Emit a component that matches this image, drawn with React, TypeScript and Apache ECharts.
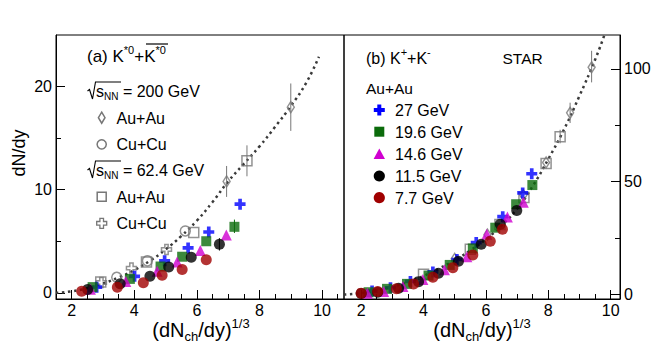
import React, { useEffect, useRef } from "react";
import * as echarts from "echarts";

// ---------- Panel (a): K*0 + anti-K*0 ----------
const fitA: number[][] = [
  [1.5, 0], [2, 0.15], [2.5, 0.45], [3, 0.9], [3.5, 1.5], [4, 2.2], [4.5, 3.1],
  [5, 4.2], [5.5, 5.5], [6, 7.0], [6.5, 8.8], [7, 10.8], [7.5, 12.5], [8, 14.2],
  [8.5, 16.1], [9, 18.1], [9.5, 20.4], [9.9, 22.9],
];
const aAuAu200: number[][] = [[6.95, 10.8], [9.0, 18.0]];
const aCuCu200: number[][] = [[3.44, 1.5], [4.42, 3.1], [5.63, 6.0]];
const aAuAu62: number[][] = [[2.93, 1.05], [4.39, 3.0], [5.9, 5.85], [7.6, 12.8]];
const aCuCu62: number[][] = [[2.95, 1.0], [3.91, 2.4], [5.03, 4.2]];
const a27: number[][] = [[2.8, 0.55], [4.01, 1.6], [4.97, 3.1], [5.72, 4.35], [6.38, 5.9], [7.38, 8.6]];
const a196: number[][] = [[2.67, 0.55], [3.86, 1.35], [4.84, 2.55], [5.53, 3.5], [6.3, 5.0], [7.2, 6.4]];
const a146: number[][] = [[2.6, 0.35], [3.73, 1.1], [4.73, 2.1], [5.37, 3.0], [6.11, 4.1], [6.94, 5.6]];
const a115: number[][] = [[2.51, 0.32], [3.55, 0.87], [4.5, 1.6], [5.1, 2.5], [5.82, 3.45], [6.72, 4.7]];
const a77: number[][] = [[2.32, 0.15], [3.46, 0.55], [4.29, 0.97], [4.89, 1.7], [5.53, 2.25], [6.3, 3.2]];
const errAGray: number[][] = [[6.95, 9.3, 12.3], [9.0, 15.7, 20.3], [7.6, 11.3, 14.3]];
const errAGreen: number[][] = [[7.2, 5.8, 7.1]];
const errABlack: number[][] = [[6.72, 4.1, 5.3]];

// ---------- Panel (b): K+ + K- ----------
const fitB: number[][] = [
  [1.45, 0], [2, 0.6], [2.5, 1.8], [3, 3.4], [3.5, 5.5], [4, 8.2], [4.5, 11.5],
  [5, 15.2], [5.5, 19.5], [6, 24.5], [6.5, 30.5], [7, 38], [7.5, 48], [8, 60],
  [8.5, 73], [9, 88], [9.5, 104], [9.8, 115],
];
const bAuAu200: number[][] = [[5.0, 15.8], [6.05, 26.5], [7.2, 44], [7.93, 58.5], [8.7, 80.5], [9.39, 100.7]];
const bAuAu62: number[][] = [[4.0, 9], [5.5, 20], [6.45, 31], [7.22, 43], [7.93, 58], [8.38, 69.9]];
const b27: number[][] = [[2.35, 1.5], [2.94, 3.0], [3.58, 5.8], [4.3, 10], [5.07, 15.5], [5.69, 23], [6.54, 34.5], [7.18, 45], [7.47, 53.5]];
const b196: number[][] = [[2.24, 1.0], [2.83, 2.5], [3.47, 4.7], [4.16, 8.4], [4.84, 13.1], [5.58, 20.4], [6.3, 29.6], [6.97, 40], [7.49, 48.5]];
const b146: number[][] = [[2.2, 0.5], [2.72, 1.3], [3.34, 3.5], [3.98, 6.6], [4.67, 11], [5.39, 16.7], [6.03, 26.7], [6.69, 34.3], [7.2, 40.9]];
const b115: number[][] = [[2.0, 0.4], [2.53, 1.0], [3.2, 2.8], [3.84, 5.7], [4.48, 9.4], [5.12, 14.7], [5.85, 22.3], [6.46, 31.1], [6.99, 37.2]];
const b77: number[][] = [[2.0, 0.6], [2.53, 1.3], [3.13, 2.5], [3.68, 4.7], [4.3, 7.6], [4.94, 11.9], [5.58, 17.5], [6.14, 23.6], [6.53, 28.9]];
const errBGray: number[][] = [[9.39, 94, 108], [8.7, 76, 85], [8.38, 67, 73]];

// ---------- Ticks ----------
const xMajorTicks = [2, 4, 6, 8, 10];
const xMinorTicksA = [2.5, 3, 3.5, 4.5, 5, 5.5, 6.5, 7, 7.5, 8.5, 9, 9.5, 10.5];
const xMinorTicksB = [2.5, 3, 3.5, 4.5, 5, 5.5, 6.5, 7, 7.5, 8.5, 9, 9.5];
const yMajorA = [0, 10, 20];
const yMinorA = [5, 15];
const yMajorB = [0, 50, 100];
const yMinorB = [25, 75];

const FONT = '"Liberation Sans", Arial, Helvetica, sans-serif';
const BLUE = "#0000ff";
const GREEN = "#0b6b0b";
const MAGENTA = "#d000d0";
const BLACK = "#000000";
const RED = "#a00000";
const GRAY = "#777777";
const PLUS = "path://M4,0L8,0L8,4L12,4L12,8L8,8L8,12L4,12L4,8L0,8L0,4L4,4Z";

function plusPts(cx: number, cy: number, s: number, t: number) {
  const h = s / 2, a = t / 2;
  return [
    [cx - a, cy - h], [cx + a, cy - h], [cx + a, cy - a], [cx + h, cy - a],
    [cx + h, cy + a], [cx + a, cy + a], [cx + a, cy + h], [cx - a, cy + h],
    [cx - a, cy + a], [cx - h, cy + a], [cx - h, cy - a], [cx - a, cy - a],
  ];
}

export default function App() {
  const ref = useRef<HTMLDivElement>(null);
  useEffect(() => {
    if (!ref.current) return;
    const chart = echarts.init(ref.current, undefined, { renderer: "svg" });

    const xMajor = (grid: number, min: number, max: number) => ({
      type: "value", gridIndex: grid, min, max, position: "bottom",
      axisLine: { show: true, onZero: false, lineStyle: { color: "#000", width: 1 } },
      axisTick: { show: true, inside: true, length: 9, customValues: xMajorTicks, lineStyle: { color: "#000" } },
      axisLabel: { show: true, customValues: xMajorTicks, fontSize: 16, fontFamily: FONT, color: "#000", margin: 3 },
      splitLine: { show: false },
    });
    const xMinor = (grid: number, min: number, max: number, ticks: number[]) => ({
      type: "value", gridIndex: grid, min, max, position: "bottom",
      axisLine: { show: false, onZero: false },
      axisTick: { show: true, inside: true, length: 5, customValues: ticks, lineStyle: { color: "#000" } },
      axisLabel: { show: false },
      splitLine: { show: false },
    });
    const yMajor = (grid: number, min: number, max: number, pos: string, ticks: number[]) => ({
      type: "value", gridIndex: grid, min, max, position: pos,
      axisLine: { show: true, onZero: false, lineStyle: { color: "#000", width: 1 } },
      axisTick: { show: true, inside: true, length: 9, customValues: ticks, lineStyle: { color: "#000" } },
      axisLabel: { show: true, customValues: ticks, fontSize: 16, fontFamily: FONT, color: "#000", margin: 4 },
      splitLine: { show: false },
    });
    const yMinor = (grid: number, min: number, max: number, pos: string, ticks: number[]) => ({
      type: "value", gridIndex: grid, min, max, position: pos,
      axisLine: { show: false, onZero: false },
      axisTick: { show: true, inside: true, length: 5, customValues: ticks, lineStyle: { color: "#000" } },
      axisLabel: { show: false },
      splitLine: { show: false },
    });

    const fit = (data: number[][], xi: number, yi: number) => ({
      type: "line", data, xAxisIndex: xi, yAxisIndex: yi, smooth: true, symbol: "none", z: 1,
      lineStyle: { color: "#3a3a3a", width: 2.5, type: [2.5, 3.5] }, silent: true,
    });
    const err = (data: number[][], color: string, xi: number, yi: number) => ({
      type: "custom", data, xAxisIndex: xi, yAxisIndex: yi, z: 2, silent: true,
      encode: { x: 0, y: [1, 2] },
      renderItem: (_p: any, api: any) => {
        const a = api.coord([api.value(0), api.value(1)]);
        const b = api.coord([api.value(0), api.value(2)]);
        return { type: "line", shape: { x1: a[0], y1: a[1], x2: b[0], y2: b[1] }, style: { stroke: color, lineWidth: 1 } };
      },
    });
    const open = (data: number[][], symbol: string, size: any, xi: number, yi: number) => ({
      type: "scatter", data, xAxisIndex: xi, yAxisIndex: yi, symbol, symbolSize: size, z: 3,
      itemStyle: { color: "rgba(255,255,255,0)", borderColor: GRAY, borderWidth: 1.5 },
    });
    const filled = (data: number[][], symbol: string, size: number, color: string, xi: number, yi: number) => ({
      type: "scatter", data, xAxisIndex: xi, yAxisIndex: yi, symbol, symbolSize: size, z: 4,
      itemStyle: { color, borderWidth: 0 },
    });

    const txt = (x: number, y: number, text: string, size: number, extra: any = {}) => ({
      type: "text", x, y, z: 100,
      style: {
        text, fontSize: size, fontFamily: FONT, fill: "#000",
        align: "left", verticalAlign: "middle", textAlign: "left", textVerticalAlign: "middle",
        ...extra,
      },
    });
    const supRich = (main: number, small: number) => ({
      sup: { fontSize: small, fontFamily: FONT, lineHeight: small, verticalAlign: "top" },
      sub: { fontSize: small, fontFamily: FONT, lineHeight: small, verticalAlign: "bottom" },
    });

    const graphics: any[] = [
      // y title
      {
        type: "text", x: 19, y: 153, rotation: Math.PI / 2, z: 100,
        style: { text: "dN/dy", fontSize: 18, fontFamily: FONT, fill: "#000", align: "center", verticalAlign: "middle", textAlign: "center", textVerticalAlign: "middle" },
      },
      // x titles
      txt(201, 330, "(dN{sub|ch}/dy){sup|1/3}", 20, { align: "center", textAlign: "center", lineHeight: 26, rich: supRich(20, 13) }),
      txt(482, 330, "(dN{sub|ch}/dy){sup|1/3}", 20, { align: "center", textAlign: "center", lineHeight: 26, rich: supRich(20, 13) }),
      // panel (a) header
      txt(87, 56, "(a) K{sup|*0}+K{sup|*0}", 17, { lineHeight: 24, rich: supRich(17, 11) }),
      { type: "line", z: 100, shape: { x1: 146, y1: 44, x2: 168, y2: 44 }, style: { stroke: "#000", lineWidth: 1.2 } },
      // sqrt s_NN = 200 GeV
      { type: "polyline", z: 100, shape: { points: [[87.5, 91], [89.5, 89.5], [92.5, 99], [95.5, 82], [121, 82]] }, style: { stroke: "#000", lineWidth: 1.1, fill: "none" } },
      txt(96, 91, "s{sub|NN} = 200 GeV", 16, { lineHeight: 20, rich: supRich(16, 10) }),
      txt(116.5, 118, "Au+Au", 16),
      txt(116.5, 144.5, "Cu+Cu", 16),
      { type: "polyline", z: 100, shape: { points: [[87.5, 170], [89.5, 168.5], [92.5, 178], [95.5, 161], [121, 161]] }, style: { stroke: "#000", lineWidth: 1.1, fill: "none" } },
      txt(96, 170, "s{sub|NN} = 62.4 GeV", 16, { lineHeight: 20, rich: supRich(16, 10) }),
      txt(116.5, 197, "Au+Au", 16),
      txt(116.5, 223.5, "Cu+Cu", 16),
      // legend markers (a)
      { type: "polygon", z: 100, shape: { points: [[101.7, 112.2], [105, 117.7], [101.7, 123.2], [98.4, 117.7]] }, style: { stroke: GRAY, lineWidth: 1.5, fill: "none" } },
      { type: "circle", z: 100, shape: { cx: 101.7, cy: 144.3, r: 4.6 }, style: { stroke: GRAY, lineWidth: 1.5, fill: "none" } },
      { type: "rect", z: 100, shape: { x: 97.2, y: 192.2, width: 9, height: 9 }, style: { stroke: GRAY, lineWidth: 1.5, fill: "none" } },
      { type: "polygon", z: 100, shape: { points: plusPts(101.7, 223.3, 10, 3.6) }, style: { stroke: GRAY, lineWidth: 1.3, fill: "none" } },
      // panel (b) header
      txt(366, 58, "(b) K{sup|+}+K{sup|-}", 16, { lineHeight: 24, rich: supRich(16, 11) }),
      txt(502.5, 58, "STAR", 15.5),
      txt(366, 88.5, "Au+Au", 15.5),
      txt(395, 110.5, "27 GeV", 16),
      txt(395, 132, "19.6 GeV", 16),
      txt(395, 154, "14.6 GeV", 16),
      txt(395, 176, "11.5 GeV", 16),
      txt(395, 198, "7.7 GeV", 16),
      { type: "polygon", z: 100, shape: { points: plusPts(379.3, 110, 11, 4) }, style: { fill: BLUE } },
      { type: "rect", z: 100, shape: { x: 374.3, y: 126.7, width: 10, height: 10 }, style: { fill: GREEN } },
      { type: "polygon", z: 100, shape: { points: [[379.3, 148.5], [385, 159], [373.6, 159]] }, style: { fill: MAGENTA } },
      { type: "circle", z: 100, shape: { cx: 379.3, cy: 176, r: 5.6 }, style: { fill: BLACK } },
      { type: "circle", z: 100, shape: { cx: 379.3, cy: 197.7, r: 5.6 }, style: { fill: RED } },
    ];

    chart.setOption({
      animation: false,
      backgroundColor: "#fff",
      grid: [
        { left: 56, top: 35, width: 288, height: 264, show: true, borderColor: "#000", borderWidth: 1, backgroundColor: "transparent", containLabel: false, outerBoundsMode: "none" },
        { left: 344, top: 35, width: 276, height: 264, show: true, borderColor: "#000", borderWidth: 1, backgroundColor: "transparent", containLabel: false, outerBoundsMode: "none" },
      ],
      xAxis: [
        xMajor(0, 1.5, 10.7),
        xMinor(0, 1.5, 10.7, xMinorTicksA),
        xMajor(1, 1.45, 10.3),
        xMinor(1, 1.45, 10.3, xMinorTicksB),
      ],
      yAxis: [
        yMajor(0, -0.6, 25, "left", yMajorA),
        yMinor(0, -0.6, 25, "left", yMinorA),
        yMajor(1, -2, 115, "right", yMajorB),
        yMinor(1, -2, 115, "right", yMinorB),
      ],
      series: [
        fit(fitA, 0, 0),
        err(errAGray, GRAY, 0, 0),
        err(errAGreen, GREEN, 0, 0),
        err(errABlack, BLACK, 0, 0),
        open(aAuAu200, "diamond", [7, 11], 0, 0),
        open(aCuCu200, "circle", 10, 0, 0),
        open(aAuAu62, "rect", 10, 0, 0),
        open(aCuCu62, PLUS, 10, 0, 0),
        filled(a27, PLUS, 11, BLUE, 0, 0),
        filled(a196, "rect", 10, GREEN, 0, 0),
        filled(a146, "triangle", 11, MAGENTA, 0, 0),
        filled(a115, "circle", 11, BLACK, 0, 0),
        filled(a77, "circle", 11, RED, 0, 0),

        fit(fitB, 2, 2),
        err(errBGray, GRAY, 2, 2),
        open(bAuAu200, "diamond", [7, 11], 2, 2),
        open(bAuAu62, "rect", 10, 2, 2),
        filled(b27, PLUS, 11, BLUE, 2, 2),
        filled(b196, "rect", 10, GREEN, 2, 2),
        filled(b146, "triangle", 11, MAGENTA, 2, 2),
        filled(b115, "circle", 11, BLACK, 2, 2),
        filled(b77, "circle", 11, RED, 2, 2),
      ],
      graphic: graphics,
    });
    return () => chart.dispose();
  }, []);
  return (
    <div
      ref={ref}
      style={{ position: "absolute", left: 0, top: 0, width: 662, height: 349, background: "#fff" }}
    />
  );
}
